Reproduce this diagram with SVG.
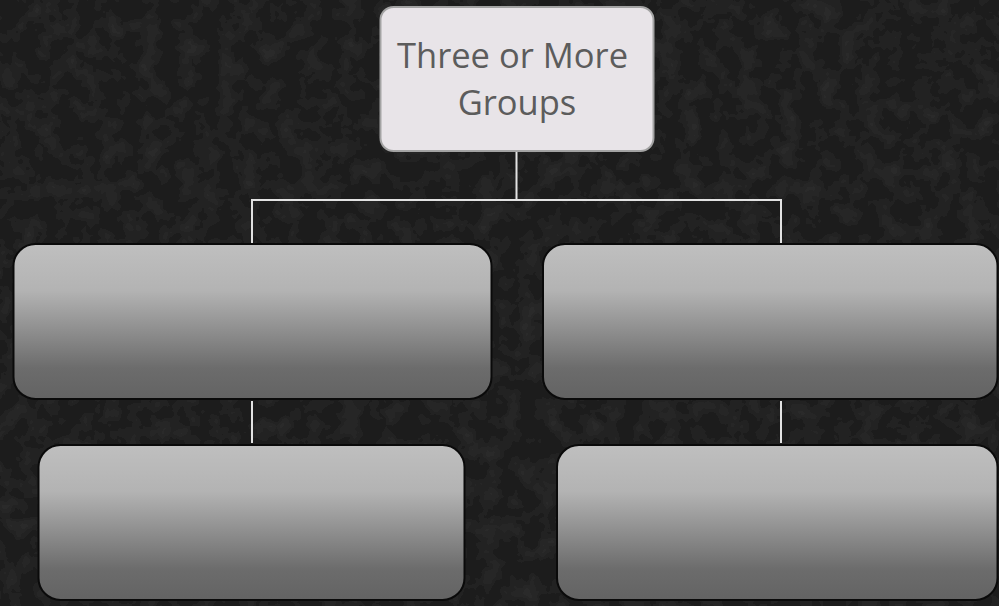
<svg xmlns="http://www.w3.org/2000/svg" width="999" height="606" viewBox="0 0 999 606">
<defs>
<linearGradient id="g" x1="0" y1="0" x2="0" y2="1">
<stop offset="0" stop-color="#bfbfbf"/>
<stop offset="0.3" stop-color="#b3b3b3"/>
<stop offset="0.8" stop-color="#6c6c6c"/>
<stop offset="1" stop-color="#636363"/>
</linearGradient>
<filter id="tex" x="0" y="0" width="100%" height="100%">
<feTurbulence type="fractalNoise" baseFrequency="0.05" numOctaves="3" seed="4" result="n"/>
<feColorMatrix in="n" type="matrix" values="0 0 0 0 0.13  0 0 0 0 0.13  0 0 0 0 0.13  0 0 0 0.22 -0.08" result="c"/>
<feComposite in="c" in2="SourceGraphic" operator="over"/>
</filter>
<style>
.box{fill:url(#g);stroke:#0a0a0a;stroke-width:2}
.conn{stroke:#e2e2e2;stroke-width:2;fill:none}
.lbl{font-family:"Open Sans","Liberation Sans",sans-serif;font-size:34.5px;fill:#5c5c5c;text-anchor:middle}
</style>
</defs>
<rect width="999" height="606" fill="#1a1a1a" filter="url(#tex)"/>
<g id="connectors">
<path class="conn" d="M516.5 151 V200 M252 200 H781 M252 199 V243 M781 199 V243"/>
<path class="conn" d="M252 401 V443 M781 401 V443"/>
</g>
<g id="root">
<rect x="380.5" y="7" width="273" height="144" rx="13" fill="#e8e4e8" stroke="#a3a3a3" stroke-width="2"/>
<text class="lbl" x="512.5" y="68">Three or More</text>
<text class="lbl" x="517" y="115">Groups</text>
</g>
<g id="mid-left"><rect class="box" x="13.5" y="244" width="478" height="155" rx="22"/></g>
<g id="mid-right"><rect class="box" x="543" y="244" width="454.5" height="155" rx="22"/></g>
<g id="bottom-left"><rect class="box" x="38.5" y="445" width="426" height="155" rx="22"/></g>
<g id="bottom-right"><rect class="box" x="557" y="445" width="440.5" height="155" rx="22"/></g>
</svg>
